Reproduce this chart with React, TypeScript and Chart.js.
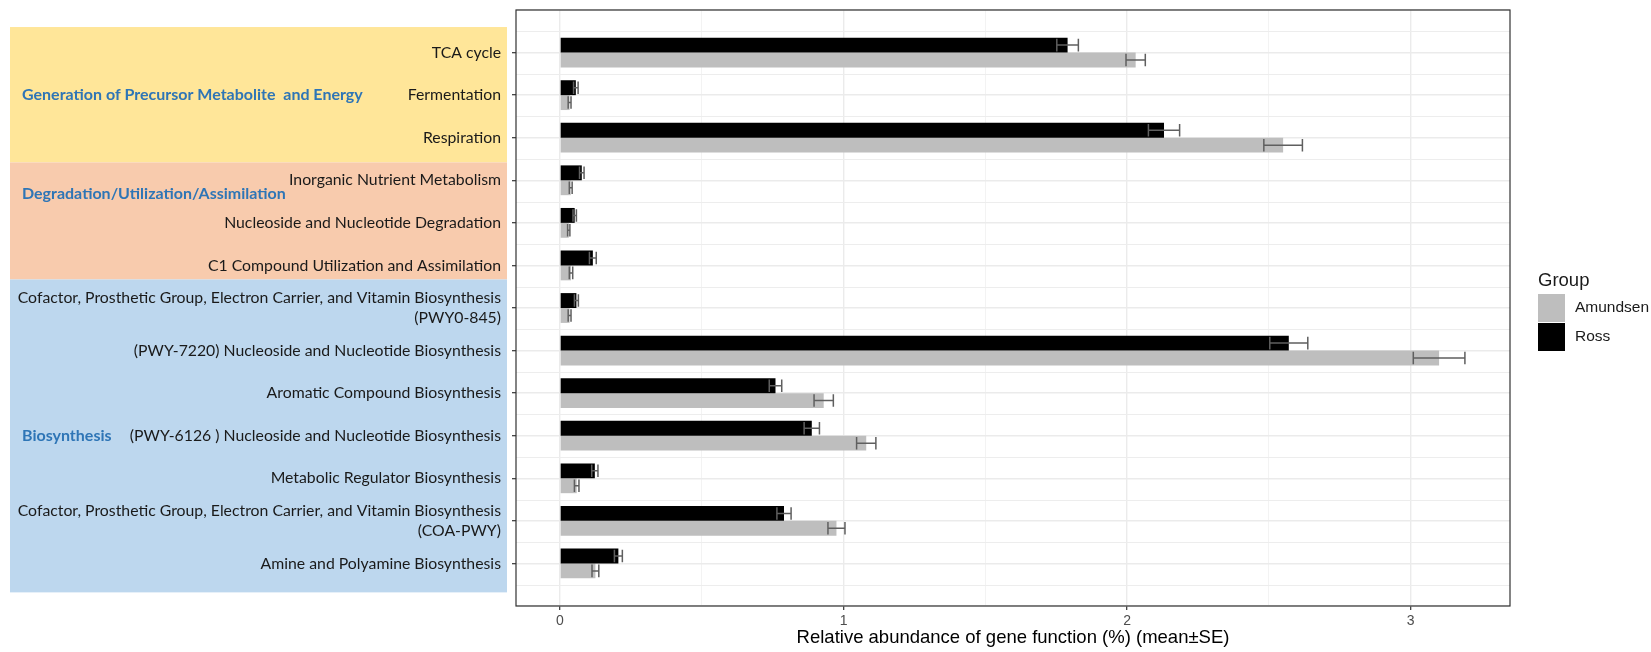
import { useEffect, useRef } from 'react';
import { Chart, registerables } from 'chart.js';

Chart.register(...registerables);

// Pathway categories, top to bottom ("\n" marks a wrapped label)
const categories = [
  'TCA cycle',
  'Fermentation',
  'Respiration',
  'Inorganic Nutrient Metabolism',
  'Nucleoside and Nucleotide Degradation',
  'C1 Compound Utilization and Assimilation',
  'Cofactor, Prosthetic Group, Electron Carrier, and Vitamin Biosynthesis\n(PWY0-845)',
  '(PWY-7220) Nucleoside and Nucleotide Biosynthesis',
  'Aromatic Compound Biosynthesis',
  '(PWY-6126 ) Nucleoside and Nucleotide Biosynthesis',
  'Metabolic Regulator Biosynthesis',
  'Cofactor, Prosthetic Group, Electron Carrier, and Vitamin Biosynthesis\n(COA-PWY)',
  'Amine and Polyamine Biosynthesis',
];

// Relative abundance (%) mean and standard error per group
const rossValues = [1.79, 0.056, 2.13, 0.077, 0.052, 0.116, 0.058, 2.57, 0.76, 0.888, 0.123, 0.79, 0.206];
const rossSE = [0.038, 0.008, 0.055, 0.008, 0.006, 0.012, 0.007, 0.067, 0.022, 0.027, 0.011, 0.025, 0.014];
const amundsenValues = [2.03, 0.034, 2.55, 0.038, 0.031, 0.039, 0.034, 3.1, 0.93, 1.08, 0.059, 0.975, 0.125];
const amundsenSE = [0.034, 0.005, 0.068, 0.005, 0.004, 0.006, 0.005, 0.091, 0.034, 0.034, 0.008, 0.03, 0.012];

const xTickValues = [0, 0.5, 1, 1.5, 2, 2.5, 3];

// Functional groups and the category rows each one covers
const groupNames = ['Generation of Precursor Metabolite  and Energy', 'Degradation/Utilization/Assimilation', 'Biosynthesis'];
const groupFirstRow = [0, 3, 6];
const groupLastRow = [2, 5, 12];

// Layout / styling of the group bands (row units, fractional)
const BAND_COLORS = ['#ffe699', '#f8cbad', '#bdd7ee'];
const BAND_EDGES = [-0.6, 2.58, 5.33, 12.68];
const GROUP_LABEL_ROW = [1, 3.33, 9];
const BAND_LEFT = 10;
const BAND_RIGHT = 507;

export default function App() {
  const canvasRef = useRef<HTMLCanvasElement>(null);

  useEffect(() => {
    const canvas = canvasRef.current;
    if (!canvas) return;

    const labels: (string | string[])[] = ['', ...categories.map((c) => (c.includes('\n') ? c.split('\n') : c)), ''];
    const pad = (arr: number[]) => [null, ...arr, null];
    const lastIndex = labels.length - 1;

    const rowPixel = (chart: any, row: number) => chart.scales.y.getPixelForValue(row + 1);

    const groupBands = {
      id: 'groupBands',
      beforeDraw(chart: any) {
        const { ctx } = chart;
        ctx.save();
        for (let g = 0; g < groupNames.length; g++) {
          const top = rowPixel(chart, BAND_EDGES[g]);
          const bottom = rowPixel(chart, BAND_EDGES[g + 1]);
          ctx.fillStyle = BAND_COLORS[g];
          ctx.fillRect(BAND_LEFT, top, BAND_RIGHT - BAND_LEFT, bottom - top);
        }
        ctx.font = 'bold 16px Lato';
        ctx.fillStyle = '#2e75b6';
        ctx.textAlign = 'left';
        ctx.textBaseline = 'middle';
        for (let g = 0; g < groupNames.length; g++) {
          ctx.fillText(groupNames[g], 22, rowPixel(chart, GROUP_LABEL_ROW[g]));
        }
        ctx.restore();
      },
    };

    const rowMidLines = {
      id: 'rowMidLines',
      beforeDatasetsDraw(chart: any) {
        const { ctx, chartArea } = chart;
        ctx.save();
        ctx.strokeStyle = '#ededed';
        ctx.lineWidth = 1;
        for (let i = 0; i < lastIndex; i++) {
          const y = Math.round((chart.scales.y.getPixelForValue(i) + chart.scales.y.getPixelForValue(i + 1)) / 2) + 0.5;
          ctx.beginPath();
          ctx.moveTo(chartArea.left, y);
          ctx.lineTo(chartArea.right, y);
          ctx.stroke();
        }
        ctx.restore();
      },
    };

    const errorBars = {
      id: 'errorBars',
      afterDatasetsDraw(chart: any) {
        const { ctx } = chart;
        const xs = chart.scales.x;
        ctx.save();
        ctx.strokeStyle = '#5f5f5f';
        ctx.lineWidth = 1.5;
        chart.data.datasets.forEach((ds: any, di: number) => {
          const meta = chart.getDatasetMeta(di);
          meta.data.forEach((bar: any, i: number) => {
            const v = ds.data[i];
            const e = ds.se[i];
            if (v == null || e == null) return;
            const { y, height } = bar.getProps(['y', 'height'], true);
            const x0 = xs.getPixelForValue(v - e);
            const x1 = xs.getPixelForValue(v + e);
            const h = height * 0.42;
            ctx.beginPath();
            ctx.moveTo(x0, y);
            ctx.lineTo(x1, y);
            ctx.moveTo(x0, y - h);
            ctx.lineTo(x0, y + h);
            ctx.moveTo(x1, y - h);
            ctx.lineTo(x1, y + h);
            ctx.stroke();
          });
        });
        ctx.restore();
      },
    };

    const panelBorder = {
      id: 'panelBorder',
      afterDatasetsDraw(chart: any) {
        const { ctx, chartArea } = chart;
        ctx.save();
        ctx.strokeStyle = '#333333';
        ctx.lineWidth = 1.2;
        ctx.strokeRect(chartArea.left, chartArea.top, chartArea.right - chartArea.left, chartArea.bottom - chartArea.top);
        ctx.restore();
      },
    };

    const groupLegend = {
      id: 'groupLegend',
      afterDraw(chart: any) {
        const { ctx, chartArea } = chart;
        const x = chartArea.right + 28;
        ctx.save();
        ctx.fillStyle = '#1a1a1a';
        ctx.font = '18.5px "Liberation Sans"';
        ctx.textAlign = 'left';
        ctx.textBaseline = 'alphabetic';
        ctx.fillText('Group', x, 286);
        const items = [...chart.data.datasets].reverse();
        items.forEach((ds: any, k: number) => {
          const top = 294 + k * 29;
          ctx.fillStyle = ds.backgroundColor;
          ctx.fillRect(x, top, 27, 28);
          ctx.fillStyle = '#1a1a1a';
          ctx.font = '15.5px "Liberation Sans"';
          ctx.textBaseline = 'middle';
          ctx.fillText(ds.label, x + 37, top + 14);
        });
        ctx.restore();
      },
    };

    const isInt = (v: number) => Math.abs(v - Math.round(v)) < 1e-9;

    const chart = new Chart(canvas, {
      type: 'bar',
      data: {
        labels,
        datasets: [
          { label: 'Ross', data: pad(rossValues), se: pad(rossSE), backgroundColor: '#000000', borderWidth: 0 } as any,
          { label: 'Amundsen', data: pad(amundsenValues), se: pad(amundsenSE), backgroundColor: '#bebebe', borderWidth: 0 } as any,
        ],
      },
      options: {
        indexAxis: 'y',
        animation: false,
        responsive: false,
        devicePixelRatio: 1,
        categoryPercentage: 0.7,
        barPercentage: 1,
        layout: { padding: { left: 0, right: 141, top: 10, bottom: 0 } },
        plugins: {
          legend: { display: false },
          tooltip: { enabled: false },
        },
        scales: {
          x: {
            type: 'linear',
            min: -0.155,
            max: 3.35,
            afterBuildTicks: (scale: any) => {
              scale.ticks = xTickValues.map((v) => ({ value: v }));
            },
            afterFit: (scale: any) => {
              scale.height = 46;
              scale.paddingLeft = 0;
              scale.paddingRight = 0;
            },
            border: { display: false },
            grid: {
              color: (ctx: any) => (isInt(ctx.tick.value) ? '#ebebeb' : '#f3f3f3'),
              lineWidth: (ctx: any) => (isInt(ctx.tick.value) ? 1.4 : 1),
              tickLength: 4,
              tickWidth: 1.2,
              tickColor: (ctx: any) => (isInt(ctx.tick.value) ? '#333333' : 'rgba(0,0,0,0)'),
            },
            ticks: {
              autoSkip: false,
              maxRotation: 0,
              padding: 3,
              color: '#4d4d4d',
              font: { family: 'Liberation Sans', size: 14 },
              callback: (v: any) => (isInt(Number(v)) ? String(Math.round(Number(v))) : ''),
            },
            title: {
              display: true,
              text: 'Relative abundance of gene function (%) (mean±SE)',
              color: '#000000',
              font: { family: 'Liberation Sans', size: 18.5, lineHeight: 1.2 },
              padding: { top: 0, bottom: 3 },
            },
          },
          y: {
            type: 'category',
            offset: false,
            afterFit: (scale: any) => {
              scale.width = 516;
              scale.paddingTop = 0;
              scale.paddingBottom = 0;
            },
            border: { display: false },
            grid: {
              offset: false,
              color: '#ebebeb',
              lineWidth: 1.4,
              tickLength: 4,
              tickWidth: 1.2,
              tickColor: (ctx: any) => (ctx.index === 0 || ctx.index === lastIndex ? 'rgba(0,0,0,0)' : '#333333'),
            },
            ticks: {
              autoSkip: false,
              padding: 11,
              color: '#1a1a1a',
              font: { family: 'Lato', size: 15.8, lineHeight: 1.3 },
            },
          },
        },
      } as any,
      plugins: [groupBands, rowMidLines, errorBars, panelBorder, groupLegend],
    });

    return () => chart.destroy();
  }, []);

  return (
    <div style={{ position: 'fixed', left: 0, top: 0, width: 1651, height: 652, background: '#ffffff' }}>
      <canvas ref={canvasRef} width={1651} height={652} style={{ display: 'block', width: 1651, height: 652 }} />
    </div>
  );
}
